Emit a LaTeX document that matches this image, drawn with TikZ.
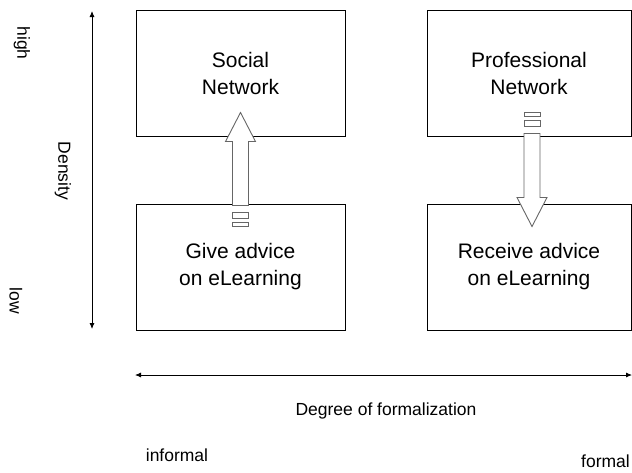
\documentclass[tikz,border=0pt]{standalone}
\usepackage{fontspec}
\setmainfont{Liberation Sans}
\usetikzlibrary{arrows.meta,calc}

\tikzset{
  quad/.style={draw, line width=1pt, minimum width=209pt, minimum height=126pt,
    inner sep=0pt, align=center, font=\fontsize{21}{27}\selectfont},
  lab/.style={inner sep=0pt, font=\fontsize{17.5}{21}\selectfont},
  axis/.style={{Latex[length=6pt,width=5pt]}-{Latex[length=6pt,width=5pt]}, line width=0.8pt},
  hollow/.style={draw=black!60, fill=white, line width=0.9pt},
  % hollow block arrow pointing up, two stripes at its tail
  stripedarrow/.pic={
    \draw[hollow] (-8,0) -- (-8,-64) -- (-15,-64) -- (0,-93) -- (15,-64)
      -- (8,-64) -- (8,0) -- cycle;
    \draw[hollow] (-8,7) rectangle (8,13);
    \draw[hollow] (-8,17) rectangle (8,21);
  }
}

\begin{document}
\begin{tikzpicture}[x=1pt, y=-1pt]
\useasboundingbox (0,0) rectangle (632,472);

\node[quad] (social) at (240.5,73) {Social\\Network};
\node[quad, minimum width=204pt] (prof) at (529,73) {Professional\\Network};
\node[quad] (give) at (240.5,267) {Give advice\\on eLearning};
\node[quad, minimum width=204pt] (recv) at (529,267) {Receive advice\\on eLearning};

\pic at ($(give.north)+(0,2)$) {stripedarrow};
\pic[rotate=180] at ($(prof.south)+(3,-3)$) {stripedarrow};

% axes
\coordinate (ytop) at (92,11);
\coordinate (ybot) at (92,329);
\coordinate (xleft) at (135,375);
\coordinate (xright) at (632,375);
\draw[axis] (ytop) -- (ybot);
\draw[axis] (xleft) -- (xright);

\node[lab, rotate=-90] (high) at (22,43) {high};
\node[lab, rotate=-90] (dens) at (63,171) {Density};
\node[lab, rotate=-90] (low) at (16,301) {low};
\node[lab] (degree) at (386,411) {Degree of formalization};
\node[lab] (informal) at (177,455) {informal};
\node[lab, anchor=east] (formal) at (630,461) {formal};
\end{tikzpicture}
\end{document}
